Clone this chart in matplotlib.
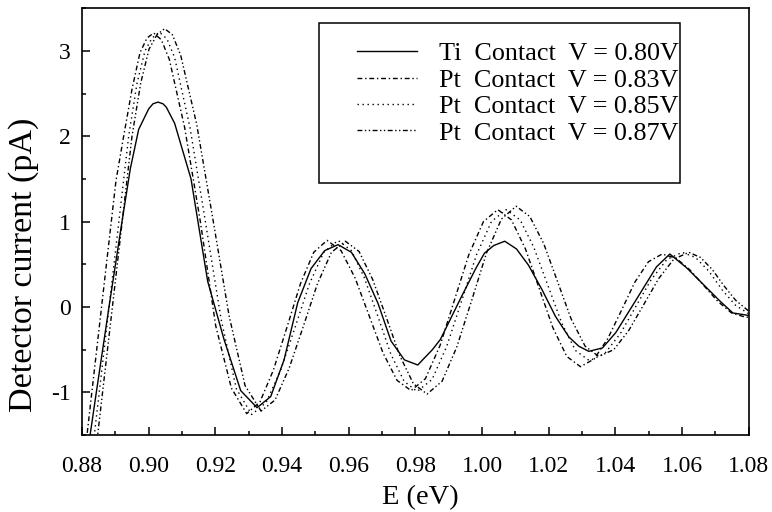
import matplotlib
matplotlib.use('Agg')
import matplotlib.pyplot as plt
from matplotlib.ticker import MultipleLocator, FormatStrFormatter
from matplotlib.patches import Rectangle

plt.rcParams['font.family'] = ['Liberation Serif', 'DejaVu Serif']
plt.rcParams['axes.unicode_minus'] = False

# Ti contact, V = 0.80V (solid)
e_ti = [0.8815, 0.8843, 0.8881, 0.8920, 0.8945, 0.8970, 0.9000, 0.9013, 0.9028, 0.9043,
        0.9053, 0.9078, 0.9127,
        0.9177, 0.9226, 0.9276, 0.9325, 0.9366, 0.9406, 0.9447, 0.9487, 0.9528, 0.9568,
        0.9608, 0.9648, 0.9688, 0.9727, 0.9767, 0.9807, 0.9851, 0.9875, 0.9938, 0.9981,
        1.0007, 1.0035, 1.0068, 1.0103, 1.0139, 1.0180, 1.0220, 1.0260, 1.0290, 1.0320,
        1.0361, 1.0401, 1.0463, 1.0523, 1.0563, 1.0613, 1.0662, 1.0713, 1.0752, 1.0800]
i_ti = [-1.75, -1.00, 0.00, 1.00, 1.62, 2.08, 2.32, 2.38, 2.40, 2.38,
        2.34, 2.15, 1.50,
        0.30, -0.38, -0.98, -1.18, -1.05, -0.62, 0.05, 0.45, 0.66, 0.73,
        0.64, 0.39, 0.04, -0.40, -0.62, -0.68, -0.50, -0.38, 0.12, 0.45,
        0.63, 0.72, 0.77, 0.68, 0.49, 0.20, -0.11, -0.35, -0.46, -0.52,
        -0.48, -0.30, 0.09, 0.47, 0.62, 0.46, 0.27, 0.07, -0.07, -0.10]

# Pt contact, V = 0.83V (dash-dot)
e_083 = [0.8808, 0.8815, 0.8845, 0.8875, 0.8902, 0.8925, 0.8950, 0.8974, 0.8995, 0.9015,
         0.9038, 0.9062, 0.9108, 0.9155, 0.9201, 0.9248, 0.9294, 0.9334, 0.9374, 0.9415,
         0.9455, 0.9495, 0.9535, 0.9577, 0.9619, 0.9661, 0.9703, 0.9745, 0.9787, 0.9830,
         0.9874, 0.9917, 0.9960, 1.0004, 1.0047, 1.0088, 1.0130, 1.0171, 1.0212, 1.0254,
         1.0295, 1.0336, 1.0377, 1.0418, 1.0458, 1.0499, 1.0540, 1.0582, 1.0623, 1.0665,
         1.0707, 1.0748, 1.0790, 1.0800]
i_083 = [-1.75, -1.50, -0.47, 0.56, 1.48, 2.00, 2.55, 2.98, 3.15, 3.21,
         3.13, 2.90, 2.10, 1.00, -0.22, -0.95, -1.25, -1.11, -0.74, -0.235,
         0.27, 0.64, 0.78, 0.66, 0.34, -0.10, -0.54, -0.86, -0.98, -0.84,
         -0.45, 0.08, 0.61, 1.00, 1.14, 1.02, 0.68, 0.22, -0.24, -0.58,
         -0.70, -0.61, -0.37, -0.04, 0.29, 0.53, 0.62, 0.57, 0.435, 0.25,
         0.065, -0.07, -0.12, -0.12]

# Pt contact, V = 0.85V (dotted)
e_085 = [0.8830, 0.8837, 0.8870, 0.8900, 0.8920, 0.8940, 0.8965, 0.8989, 0.9010, 0.9032,
         0.9055, 0.9078, 0.9124, 0.9171, 0.9217, 0.9263, 0.9309, 0.9352, 0.9395, 0.9439,
         0.9482, 0.9525, 0.9568, 0.9608, 0.9647, 0.9687, 0.9726, 0.9766, 0.9805, 0.9850,
         0.9894, 0.9939, 0.9983, 1.0028, 1.0072, 1.0114, 1.0155, 1.0197, 1.0239, 1.0280,
         1.0322, 1.0368, 1.0415, 1.0461, 1.0507, 1.0554, 1.0600, 1.0640, 1.0680, 1.0720,
         1.0760, 1.0800]
i_085 = [-1.75, -1.50, -0.38, 0.64, 1.32, 2.00, 2.62, 3.00, 3.15, 3.22,
         3.14, 2.92, 2.10, 0.98, -0.14, -0.96, -1.26, -1.12, -0.75, -0.24,
         0.27, 0.64, 0.78, 0.66, 0.34, -0.105, -0.55, -0.87, -0.99, -0.85,
         -0.46, 0.075, 0.61, 1.00, 1.14, 1.02, 0.70, 0.255, -0.19, -0.51,
         -0.63, -0.545, -0.31, 0.005, 0.32, 0.555, 0.64, 0.58, 0.42, 0.20,
         0.02, -0.08]

# Pt contact, V = 0.87V (dash-dot-dot)
e_087 = [0.8840, 0.8847, 0.8880, 0.8910, 0.8930, 0.8950, 0.8976, 0.9001, 0.9025, 0.9048,
         0.9071, 0.9096, 0.9144, 0.9193, 0.9241, 0.9289, 0.9337, 0.9379, 0.9421, 0.9464,
         0.9506, 0.9548, 0.9590, 0.9631, 0.9672, 0.9713, 0.9753, 0.9794, 0.9835, 0.9880,
         0.9924, 0.9969, 1.0013, 1.0058, 1.0102, 1.0143, 1.0185, 1.0226, 1.0267, 1.0309,
         1.0350, 1.0395, 1.0440, 1.0485, 1.0530, 1.0575, 1.0620, 1.0655, 1.0690, 1.0725,
         1.0760, 1.0800]
i_087 = [-1.75, -1.50, -0.38, 0.64, 1.32, 2.00, 2.62, 3.02, 3.19, 3.26,
         3.19, 2.95, 2.14, 1.02, -0.10, -0.92, -1.22, -1.09, -0.72, -0.225,
         0.27, 0.64, 0.77, 0.65, 0.32, -0.125, -0.57, -0.90, -1.02, -0.87,
         -0.47, 0.08, 0.63, 1.03, 1.18, 1.06, 0.74, 0.30, -0.14, -0.46,
         -0.58, -0.50, -0.275, 0.03, 0.335, 0.56, 0.64, 0.58, 0.44, 0.25,
         0.08, -0.05]

labels = ['Ti  Contact  V = 0.80V', 'Pt  Contact  V = 0.83V',
          'Pt  Contact  V = 0.85V', 'Pt  Contact  V = 0.87V']

fig = plt.figure(figsize=(7.72, 5.12), dpi=100)
ax = fig.add_axes([0.1062, 0.1504, 0.8638, 0.8336])

lw = 1.0
ax.plot(e_ti, i_ti, color='black', lw=lw, ls='-', label=labels[0])
ax.plot(e_083, i_083, color='black', lw=lw, ls=(0, (3.5, 2, 1, 2)), label=labels[1])
ax.plot(e_085, i_085, color='black', lw=lw, ls=(0, (1, 2.6)), label=labels[2])
ax.plot(e_087, i_087, color='black', lw=lw, ls=(0, (3.5, 1.8, 1, 1.8, 1, 1.8)), label=labels[3])

ax.set_xlim(0.88, 1.08)
ax.set_ylim(-1.5, 3.5)
ax.xaxis.set_major_locator(MultipleLocator(0.02))
ax.xaxis.set_minor_locator(MultipleLocator(0.01))
ax.xaxis.set_major_formatter(FormatStrFormatter('%.2f'))
ax.yaxis.set_major_locator(MultipleLocator(1))
ax.yaxis.set_minor_locator(MultipleLocator(0.5))
ax.yaxis.set_major_formatter(FormatStrFormatter('%d'))
ax.tick_params(which='both', direction='in', top=False, right=False, width=1.1,
               labelsize=17)
ax.tick_params(axis='x', which='major', length=5.5, pad=15)
ax.tick_params(axis='y', which='major', length=5.5, pad=8)
ax.tick_params(which='minor', length=3)
for s in ax.spines.values():
    s.set_linewidth(1.2)

ax.set_xlabel('E (eV)', fontsize=20.5)
ax.xaxis.set_label_coords(0.507, -0.117)
ax.set_ylabel('Detector current (pA)', fontsize=24.5)
ax.yaxis.set_label_coords(-0.064, 0.398)

leg = ax.legend(loc='upper left', bbox_to_anchor=(0.4003, 0.939), frameon=False,
                fontsize=18.8, handlelength=2.3, handletextpad=0.85,
                labelspacing=0.12, borderpad=0.3, borderaxespad=0)
# legend frame
ax.add_patch(Rectangle((0.355, 0.590), 0.542, 0.375, transform=ax.transAxes,
                       fill=False, ec='black', lw=1.1, zorder=5))

fig.savefig('out.png', dpi=100)
